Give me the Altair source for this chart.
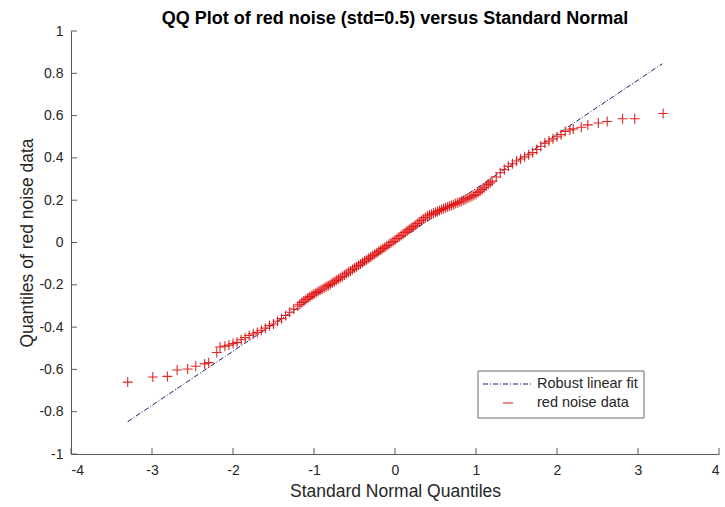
import altair as alt
import pandas as pd

# Standard normal quantiles (x) and sorted red-noise sample quantiles (y)
theoretical_q = [
    -3.300, -2.990, -2.810, -2.690, -2.560, -2.460, -2.350, -2.300, -2.200, -2.160,
    -2.100, -2.050, -2.000, -1.950, -1.900, -1.850, -1.800, -1.750, -1.700, -1.650,
    -1.600, -1.550, -1.500, -1.450, -1.400, -1.350, -1.300, -1.250,
    -1.200, -1.175, -1.150, -1.125, -1.100, -1.075, -1.050, -1.025,
    -1.000, -0.975, -0.950, -0.925, -0.900, -0.875, -0.850, -0.825,
    -0.800, -0.775, -0.750, -0.725, -0.700, -0.675, -0.650, -0.625,
    -0.600, -0.575, -0.550, -0.525, -0.500, -0.475, -0.450, -0.425,
    -0.400, -0.375, -0.350, -0.325, -0.300, -0.275, -0.250, -0.225,
    -0.200, -0.175, -0.150, -0.125, -0.100, -0.075, -0.050, -0.025,
    0.000, 0.025, 0.050, 0.075, 0.100, 0.125, 0.150, 0.175,
    0.200, 0.225, 0.250, 0.275, 0.300, 0.325, 0.350, 0.375,
    0.400, 0.425, 0.450, 0.475, 0.500, 0.525, 0.550, 0.575,
    0.600, 0.625, 0.650, 0.675, 0.700, 0.725, 0.750, 0.775,
    0.800, 0.825, 0.850, 0.875, 0.900, 0.925, 0.950, 0.975,
    1.000, 1.025, 1.050, 1.075, 1.100, 1.125, 1.150, 1.175,
    1.200, 1.250, 1.300, 1.350, 1.400, 1.450, 1.500, 1.550,
    1.600, 1.650, 1.700, 1.750, 1.800, 1.850, 1.900, 1.950,
    2.000, 2.050, 2.100, 2.160, 2.200, 2.300, 2.380, 2.510, 2.620, 2.810,
    2.960, 3.310,
]
sample_q = [
    -0.660, -0.636, -0.633, -0.603, -0.598, -0.585, -0.574, -0.568, -0.520, -0.494,
    -0.490, -0.485, -0.478, -0.472, -0.460, -0.450, -0.440, -0.432, -0.425, -0.415,
    -0.405, -0.393, -0.385, -0.372, -0.360, -0.345, -0.330, -0.315,
    -0.300, -0.292, -0.284, -0.277, -0.269, -0.262, -0.256, -0.249,
    -0.243, -0.237, -0.232, -0.226, -0.221, -0.215, -0.209, -0.204,
    -0.198, -0.192, -0.186, -0.179, -0.173, -0.167, -0.161, -0.154,
    -0.148, -0.141, -0.135, -0.128, -0.121, -0.115, -0.108, -0.102,
    -0.095, -0.088, -0.082, -0.075, -0.068, -0.062, -0.055, -0.049,
    -0.042, -0.035, -0.028, -0.022, -0.015, -0.008, -0.001, 0.005,
    0.012, 0.019, 0.026, 0.033, 0.040, 0.047, 0.054, 0.061,
    0.068, 0.075, 0.082, 0.090, 0.097, 0.104, 0.111, 0.118,
    0.125, 0.130, 0.134, 0.138, 0.143, 0.147, 0.151, 0.156,
    0.160, 0.164, 0.168, 0.172, 0.176, 0.180, 0.184, 0.188,
    0.192, 0.196, 0.201, 0.205, 0.210, 0.214, 0.219, 0.223,
    0.228, 0.236, 0.243, 0.251, 0.259, 0.267, 0.275, 0.282,
    0.290, 0.310, 0.330, 0.345, 0.360, 0.372, 0.385, 0.395,
    0.405, 0.415, 0.425, 0.440, 0.455, 0.470, 0.480, 0.490,
    0.500, 0.510, 0.525, 0.532, 0.537, 0.545, 0.556, 0.565, 0.572, 0.585,
    0.585, 0.610,
]

# Robust linear fit endpoints
fit_x = [-3.30, 3.30]
fit_y = [-0.847, 0.845]

x_ticks = [-4, -3, -2, -1, 0, 1, 2, 3, 4]
y_ticks = [-1, -0.8, -0.6, -0.4, -0.2, 0, 0.2, 0.4, 0.6, 0.8, 1]

legend_labels = ["Robust linear fit", "red noise data"]

W, H = 648, 423
FONT = "Liberation Sans"
TXT = "#262626"
AXC = "#5a5a5a"
RED = "#e01010"
FIT = "#1c1c6a"

pts = pd.DataFrame({"x": theoretical_q, "y": sample_q})
fit = pd.DataFrame({"x": fit_x, "y": fit_y})
xt = pd.DataFrame({"v": x_ticks})
yt = pd.DataFrame({"v": y_ticks})
one = pd.DataFrame({"k": [0]})

xs = alt.Scale(domain=[-4, 4], nice=False, zero=False)
ys = alt.Scale(domain=[-1, 1], nice=False, zero=False)

x_axis = alt.Axis(values=x_ticks, labelExpr="'' + datum.value", title="Standard Normal Quantiles",
                  grid=False, tickSize=0, labelPadding=9, titlePadding=5)
y_axis = alt.Axis(values=y_ticks, labelExpr="'' + datum.value", title="Quantiles of red noise data",
                  grid=False, tickSize=0, labelPadding=8, titlePadding=2)

axes = alt.Chart(one).mark_point(opacity=0).encode(
    x=alt.X("k:Q", scale=xs, axis=x_axis),
    y=alt.Y("k:Q", scale=ys, axis=y_axis),
)

# inward ticks along the bottom and left axes
x_tick_marks = alt.Chart(xt).mark_rule(color=AXC, strokeWidth=1).encode(
    x=alt.X("v:Q", scale=xs), y=alt.value(H), y2=alt.value(H - 6)
)
y_tick_marks = alt.Chart(yt).mark_rule(color=AXC, strokeWidth=1).encode(
    y=alt.Y("v:Q", scale=ys), x=alt.value(0), x2=alt.value(6)
)

fit_line = alt.Chart(fit).mark_line(color=FIT, strokeWidth=1, strokeDash=[5, 2, 1, 2]).encode(
    x=alt.X("x:Q", scale=xs), y=alt.Y("y:Q", scale=ys)
)

plus = "M-1,0L1,0M0,-1L0,1"
points = alt.Chart(pts).mark_point(shape=plus, filled=False, color=RED, size=100,
                                   strokeWidth=1.1, opacity=0.9).encode(
    x=alt.X("x:Q", scale=xs), y=alt.Y("y:Q", scale=ys)
)

# legend box in the lower right of the axes
lx0, lx1, ly0, ly1 = 407, 573, 340, 387
leg_box = alt.Chart(one).mark_rect(fill="white", stroke="#6a6a6a", strokeWidth=1).encode(
    x=alt.value(lx0), x2=alt.value(lx1), y=alt.value(ly0), y2=alt.value(ly1)
)
leg_fit = alt.Chart(one).mark_rule(color=FIT, strokeWidth=1, strokeDash=[5, 2, 1, 2]).encode(
    x=alt.value(lx0 + 5), x2=alt.value(lx0 + 54), y=alt.value(ly0 + 13)
)
leg_pts = alt.Chart(one).mark_rule(color=RED, strokeWidth=1).encode(
    x=alt.value(lx0 + 25), x2=alt.value(lx0 + 35), y=alt.value(ly0 + 32)
)
leg_text_fit = alt.Chart(one).mark_text(
    align="left", baseline="middle", font=FONT, fontSize=14.5, color=TXT, text=legend_labels[0]
).encode(x=alt.value(lx0 + 59), y=alt.value(ly0 + 13))
leg_text_pts = alt.Chart(one).mark_text(
    align="left", baseline="middle", font=FONT, fontSize=14.5, color=TXT, text=legend_labels[1]
).encode(x=alt.value(lx0 + 59), y=alt.value(ly0 + 32))

chart = alt.layer(
    axes, fit_line, points, x_tick_marks, y_tick_marks,
    leg_box, leg_fit, leg_pts, leg_text_fit, leg_text_pts
).properties(
    width=W, height=H,
    background="white",
    title=alt.TitleParams("QQ Plot of red noise (std=0.5) versus Standard Normal",
                          font=FONT, fontSize=18, fontWeight="bold", color="black",
                          anchor="middle", offset=-4),
    autosize=alt.AutoSizeParams(type="none"),
    padding={"left": 71, "top": 31, "right": 6, "bottom": 53},
).configure_view(stroke=None).configure_axis(
    domainColor=AXC, labelFont=FONT, labelFontSize=14, labelColor=TXT,
    titleFont=FONT, titleFontSize=17.5, titleFontWeight="normal", titleColor=TXT,
)

chart.save("out.html", embed_options={"renderer": "svg", "actions": False})
